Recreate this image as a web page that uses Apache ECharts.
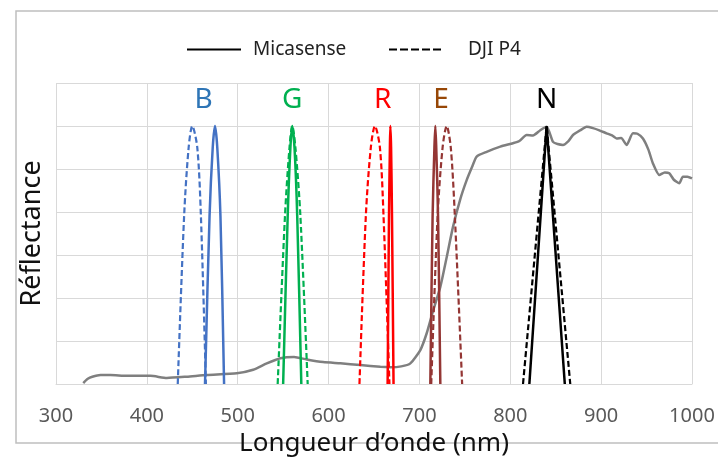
<!DOCTYPE html>
<html>
<head>
<meta charset="utf-8">
<script src="https://cdn.jsdelivr.net/npm/echarts@6/dist/echarts.min.js"></script>
<style>
  html, body { margin: 0; padding: 0; background: #fff; }
  #chart { width: 718px; height: 458px; }
</style>
</head>
<body>
<div id="chart"></div>
<script>
// reflectance spectrum (grey curve)
var spectrumNm = [330, 335, 340, 349, 360, 378, 404, 422, 444, 466, 499, 517, 532, 547, 562, 576, 594, 613, 635, 657,
    668, 680, 690, 701, 708, 715, 723, 730, 737, 745, 752, 758, 763, 774, 789, 803, 810, 818, 825, 833,
    840, 847, 852, 858, 864, 869, 877, 884, 891, 898, 906, 912, 917, 922, 928, 935, 940, 946, 952, 957,
    964, 970, 975, 980, 986, 990, 995, 1000];
var spectrumRefl = [0.02, 0.12, 0.17, 0.21, 0.21, 0.19, 0.19, 0.14, 0.17, 0.21, 0.25, 0.33, 0.48, 0.60, 0.63, 0.57, 0.51, 0.48, 0.44, 0.40,
    0.39, 0.41, 0.48, 0.79, 1.18, 1.70, 2.26, 2.95, 3.66, 4.30, 4.74, 5.05, 5.29, 5.40, 5.52, 5.60, 5.65, 5.79, 5.78, 5.90,
    5.98, 5.63, 5.58, 5.56, 5.65, 5.79, 5.90, 5.98, 5.95, 5.90, 5.83, 5.78, 5.71, 5.72, 5.56, 5.83, 5.82, 5.71, 5.45, 5.13,
    4.86, 4.92, 4.90, 4.75, 4.67, 4.82, 4.82, 4.78];

// band responses [nm, value]
var micaB = [[464, 0], [469, 3.9], [472.5, 5.5], [475, 6], [477.5, 5.5], [481, 3.9], [485, 0]];
var djiB = [[434, 0], [441, 3.9], [446, 5.5], [450, 6], [455.5, 5.5], [459.5, 3.9], [465, 0]];
var micaG = [[550, 0], [555, 3.9], [558, 5.5], [560, 6], [562.5, 5.5], [565.5, 3.9], [570, 0]];
var djiG = [[544, 0], [552, 3.9], [557, 5.5], [560, 6], [563.5, 5.5], [569, 3.9], [577, 0]];
var micaR = [[665, 0], [666.5, 3.9], [667.5, 5.5], [668, 6], [668.8, 5.5], [669.8, 3.9], [671.5, 0]];
var djiR = [[634, 0], [641, 3.9], [646.5, 5.5], [651, 6], [656.5, 5.5], [660.5, 3.9], [667, 0]];
var micaE = [[712, 0], [714.5, 3.9], [716.5, 5.5], [717.5, 6], [718.5, 5.5], [720.5, 3.9], [723, 0]];
var djiE = [[713, 0], [720, 3.9], [725.5, 5.5], [730, 6], [734.5, 5.5], [739, 3.9], [747, 0]];
var micaN = [[821, 0], [830.5, 3], [840, 6], [850, 3], [860, 0]];
var djiN = [[814, 0], [827, 3], [840, 6], [853, 3], [866, 0]];

var bandNames = ['B', 'G', 'R', 'E', 'N'];
var micaBands = [micaB, micaG, micaR, micaE, micaN];
var djiBands = [djiB, djiG, djiR, djiE, djiN];

var lineColors = ['#4472c4', '#00b050', '#ff0000', '#943634', '#000000'];
var textColors = ['#2e75b6', '#00b050', '#ff0000', '#974706', '#000000'];
var FONT = 'Noto Sans';

function peakNm(arr) {
    var best = arr[0];
    arr.forEach(function (p) { if (p[1] > best[1]) best = p; });
    return best[0];
}

var series = [];
series.push({
    name: 'spectre',
    type: 'line',
    data: spectrumNm.map(function (x, i) { return [x, spectrumRefl[i]]; }),
    symbol: 'none',
    smooth: 0.2,
    lineStyle: { color: '#7f7f7f', width: 2.5 },
    z: 2
});
bandNames.forEach(function (b, i) {
    series.push({
        name: b + ' DJI',
        type: 'line',
        data: djiBands[i],
        symbol: 'none',
        smooth: b === 'N' ? false : 0.3,
        lineStyle: { color: lineColors[i], width: 2.2, type: [6, 3] },
        z: 3
    });
    series.push({
        name: b + ' Mica',
        type: 'line',
        data: micaBands[i],
        symbol: 'none',
        smooth: b === 'N' ? false : 0.3,
        lineStyle: { color: lineColors[i], width: 2.5 },
        z: 4
    });
});
// legend-only series
series.push({ name: 'Micasense', type: 'line', data: [], symbol: 'none', color: '#000', lineStyle: { color: '#000', width: 2.5 } });
series.push({ name: 'DJI P4', type: 'line', data: [], symbol: 'none', color: '#000', lineStyle: { color: '#000', width: 2.5, type: [8, 3] } });
// band letters
series.push({
    name: 'lettres',
    type: 'scatter',
    symbolSize: 1,
    itemStyle: { color: 'transparent', opacity: 1 },
    data: bandNames.map(function (b, i) {
        return {
            name: b,
            value: [(peakNm(micaBands[i]) + peakNm(djiBands[i])) / 2, 6.6],
            label: { color: textColors[i] }
        };
    }),
    label: {
        show: true,
        position: 'inside',
        formatter: '{b}',
        fontFamily: FONT,
        fontSize: 28,
        opacity: 1
    },
    z: 5
});

var legendBase = {
    top: 35,
    itemHeight: 14,
    itemStyle: { opacity: 0 }
};

var chart = echarts.init(document.getElementById('chart'));
chart.setOption({
    animation: false,
    backgroundColor: '#fff',
    graphic: [{
        type: 'rect',
        shape: { x: 16, y: 11, width: 720, height: 432 },
        style: { fill: 'none', stroke: '#bfbfbf', lineWidth: 1.5 },
        z: -1
    }],
    legend: [
        Object.assign({}, legendBase, {
            data: ['Micasense'],
            left: 181,
            itemWidth: 54,
            textStyle: { fontFamily: FONT, fontSize: 19, color: '#222', padding: [0, 0, 0, 7] }
        }),
        Object.assign({}, legendBase, {
            data: ['DJI P4'],
            left: 383,
            itemWidth: 55,
            textStyle: { fontFamily: FONT, fontSize: 19, color: '#222', padding: [0, 0, 0, 19] }
        })
    ],
    grid: { left: 56, right: 26, top: 83, bottom: 74, containLabel: false, outerBoundsMode: 'none' },
    xAxis: {
        type: 'value',
        min: 300,
        max: 1000,
        interval: 100,
        name: 'Longueur d\u2019onde (nm)',
        nameLocation: 'middle',
        nameGap: 44,
        nameTextStyle: { fontFamily: FONT, fontSize: 26, color: '#111' },
        axisLine: { lineStyle: { color: '#d9d9d9' } },
        axisTick: { show: false },
        axisLabel: {
            margin: 22, fontFamily: FONT, fontSize: 20, color: '#595959',
            formatter: function (v) { return String(v); }
        },
        splitLine: { lineStyle: { color: '#d9d9d9' } }
    },
    yAxis: {
        type: 'value',
        min: 0,
        max: 7,
        interval: 1,
        name: 'R\u00e9flectance',
        nameLocation: 'middle',
        nameGap: 10,
        nameTextStyle: { fontFamily: FONT, fontSize: 27, color: '#111' },
        axisLine: { show: false },
        axisTick: { show: false },
        axisLabel: { show: false },
        splitLine: { lineStyle: { color: '#d9d9d9' } }
    },
    series: series
});
</script>
</body>
</html>
